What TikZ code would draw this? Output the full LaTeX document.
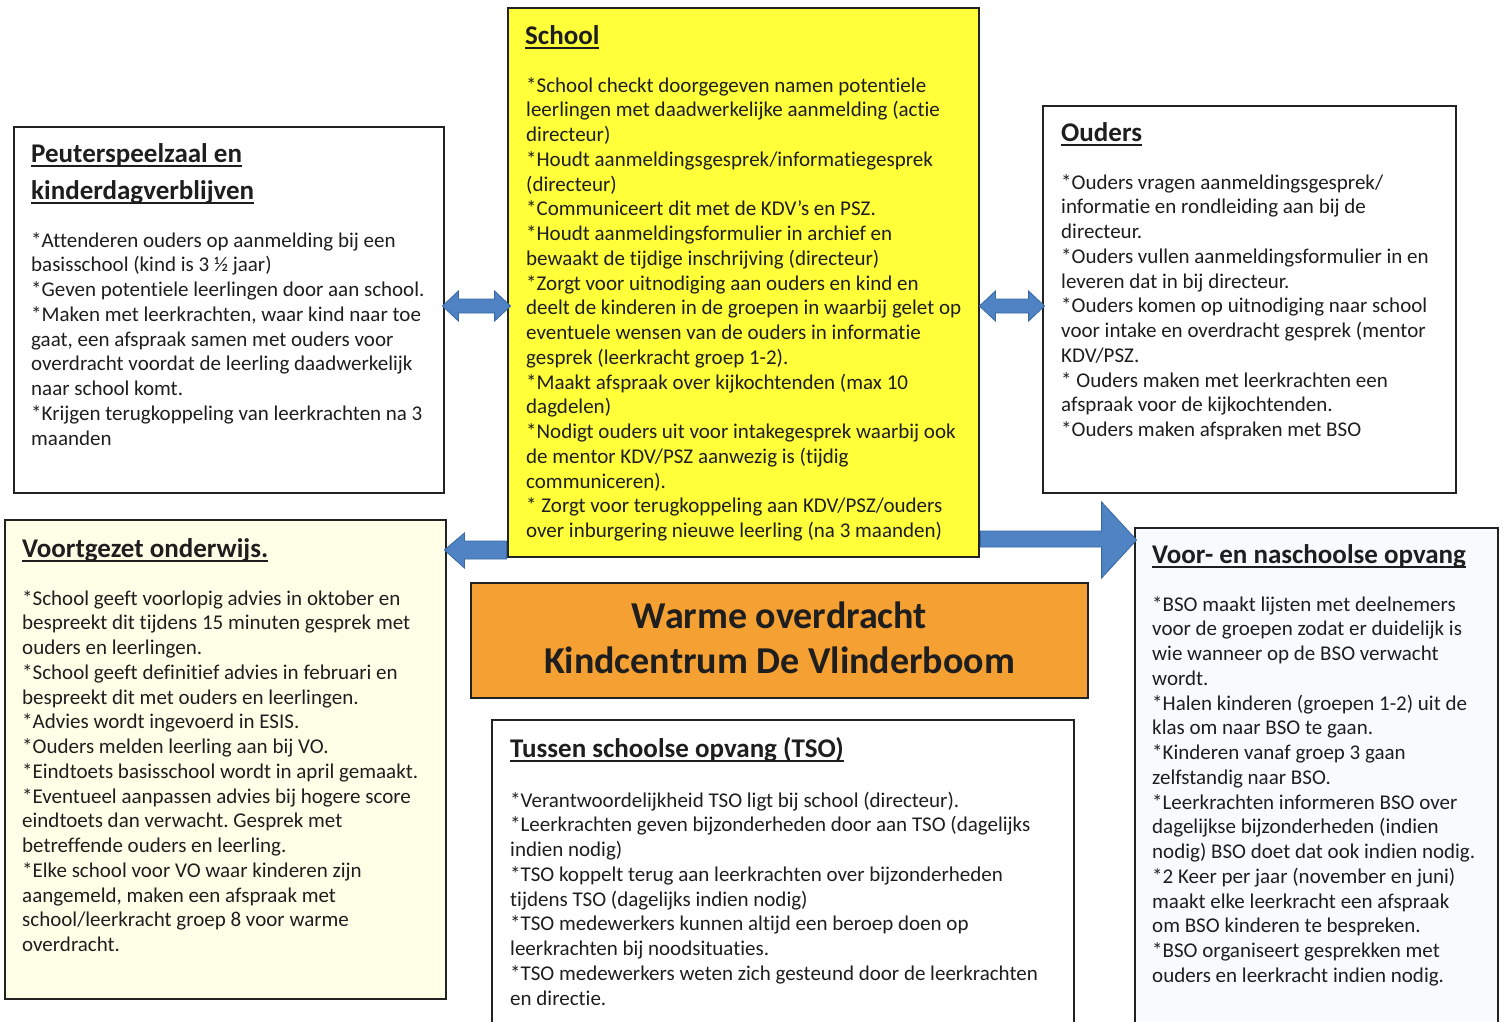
\documentclass[tikz,border=0pt]{standalone}
\usepackage{fontspec}
\setmainfont{Carlito}[Ligatures={NoCommon,NoContextual}]
\usetikzlibrary{calc}
\definecolor{schoolyellow}{RGB}{255,255,58}
\definecolor{orangebox}{RGB}{245,160,50}
\definecolor{voyellow}{RGB}{255,255,232}
\definecolor{bsoblue}{RGB}{248,251,253}
\definecolor{arrowblue}{RGB}{79,131,196}
\definecolor{arrowedge}{RGB}{58,104,165}
\definecolor{inkgray}{RGB}{30,30,30}
\definecolor{linegray}{RGB}{34,34,34}
\newcommand{\ttlul}[1]{\leavevmode\setbox0\hbox{#1}\rlap{\rule[-4.5pt]{\wd0}{2pt}}\box0}
\frenchspacing
\begin{document}
\begin{tikzpicture}[x=1pt,y=-1pt,
  box/.style={draw=linegray, line width=2.8pt, rectangle, inner sep=0pt},
  body/.style={anchor=north west, inner sep=0pt, align=left, text=inkgray, font=\fontsize{21}{24.75}\selectfont},
  heading/.style={anchor=base west, inner sep=0pt, text=inkgray, font=\fontsize{27}{30}\selectfont\bfseries},
  bigtitle/.style={anchor=base, inner sep=0pt, text=inkgray, font=\fontsize{38}{44}\selectfont\bfseries},
  blockarrow/.style={fill=arrowblue, draw=arrowedge, line width=0.8pt, line join=miter}]
\useasboundingbox (0,0) rectangle (1504,1021);
\clip (0,0) rectangle (1504,1021);
\fill[white] (0,0) rectangle (1504,1021);

% boxes
\node[box, fill=white, minimum width=430pt, minimum height=366pt] (pz) at (229,310) {};
\node[box, fill=schoolyellow, minimum width=471pt, minimum height=549pt] (school) at (743.5,282.5) {};
\node[box, fill=white, minimum width=413pt, minimum height=387pt] (ouders) at (1249.5,299.5) {};
\node[box, fill=voyellow, minimum width=441pt, minimum height=479pt] (vo) at (225.5,759.5) {};
\node[box, fill=orangebox, minimum width=617pt, minimum height=115pt] (title) at (779.5,640.5) {};
\node[box, fill=white, minimum width=582pt, minimum height=320pt] (tso) at (783,880) {};
\node[box, fill=bsoblue, minimum width=363pt, minimum height=522pt] (bso) at (1316.5,789) {};

% arrows
\coordinate (la1) at ($(pz.east |- 0,306)+(-3,0)$);
\coordinate (la2) at ($(school.west |- 0,306)+(4,0)$);
\path[blockarrow] (la1) -- ++(16,-15) -- ++(0,8) -- ($(la2)+(-16,-7)$) -- ++(0,-8) -- (la2)
  -- ++(-16,15) -- ++(0,-8) -- ($(la1)+(16,7)$) -- ++(0,8) -- cycle;
\coordinate (ra1) at ($(school.east |- 0,306)+(-1,0)$);
\coordinate (ra2) at ($(ouders.west |- 0,306)+(3,0)$);
\path[blockarrow] (ra1) -- ++(16,-15) -- ++(0,8) -- ($(ra2)+(-16,-7)$) -- ++(0,-8) -- (ra2)
  -- ++(-16,15) -- ++(0,-8) -- ($(ra1)+(16,7)$) -- ++(0,8) -- cycle;
\coordinate (vt) at ($(vo.east |- 0,550)+(-3,0)$);
\path[blockarrow] (school.west |- 0,541) -- ($(vt)+(20,-9)$) -- ++(0,-8) -- (vt)
  -- ($(vt)+(20,18)$) -- ++(0,-9) -- (school.west |- 0,559) -- cycle;
\coordinate (bt) at ($(bso.west |- 0,540)+(3,0)$);
\path[blockarrow] (school.east |- 0,531) -- ($(bt)+(-35,-9)$) -- ++(0,-29) -- (bt)
  -- ($(bt)+(-35,38)$) -- ++(0,-31) -- (school.east |- 0,547) -- cycle;

% headings
\node[heading] (pzh1) at (31,162) {\ttlul{Peuterspeelzaal en}};
\node[heading] (pzh2) at (31,199) {\ttlul{kinderdagverblijven}};
\node[heading] (schh) at (525,44) {\ttlul{School}};
\node[heading] (oudh) at (1061,141) {\ttlul{Ouders}};
\node[heading] (voh) at (22,557) {\ttlul{Voortgezet onderwijs.}};
\node[heading] (tsoh) at (510,757) {\ttlul{Tussen schoolse opvang (TSO)}};
\node[heading] (bsoh) at (1152,563) {\ttlul{Voor- en naschoolse opvang}};

\node[bigtitle] (t1) at (779.5,628) {Warme overdracht};
\node[bigtitle] (t2) at (779.5,673) {Kindcentrum De Vlinderboom};

% body texts
\node[body] (pzb) at (31,229.5) {\strut*Attenderen ouders op aanmelding bij een\\
basisschool (kind is 3 ½ jaar)\\
*Geven potentiele leerlingen door aan school.\\
*Maken met leerkrachten, waar kind naar toe\\
gaat, een afspraak samen met ouders voor\\
overdracht voordat de leerling daadwerkelijk\\
naar school komt.\\
*Krijgen terugkoppeling van leerkrachten na 3\\
maanden};

\node[body] (schb) at (526,74.5) {\strut*School checkt doorgegeven namen potentiele\\
leerlingen met daadwerkelijke aanmelding (actie\\
directeur)\\
*Houdt aanmeldingsgesprek/informatiegesprek\\
(directeur)\\
*Communiceert dit met de KDV’s en PSZ.\\
*Houdt aanmeldingsformulier in archief en\\
bewaakt de tijdige inschrijving (directeur)\\
*Zorgt voor uitnodiging aan ouders en kind en\\
deelt de kinderen in de groepen in waarbij gelet op\\
eventuele wensen van de ouders in informatie\\
gesprek (leerkracht groep 1-2).\\
*Maakt afspraak over kijkochtenden (max 10\\
dagdelen)\\
*Nodigt ouders uit voor intakegesprek waarbij ook\\
de mentor KDV/PSZ aanwezig is (tijdig\\
communiceren).\\
* Zorgt voor terugkoppeling aan KDV/PSZ/ouders\\
over inburgering nieuwe leerling (na 3 maanden)};

\node[body] (oudb) at (1061,171.5) {\strut*Ouders vragen aanmeldingsgesprek/\\
informatie en rondleiding aan bij de\\
directeur.\\
*Ouders vullen aanmeldingsformulier in en\\
leveren dat in bij directeur.\\
*Ouders komen op uitnodiging naar school\\
voor intake en overdracht gesprek (mentor\\
KDV/PSZ.\\
* Ouders maken met leerkrachten een\\
afspraak voor de kijkochtenden.\\
*Ouders maken afspraken met BSO};

\node[body] (vob) at (22,587.5) {\strut*School geeft voorlopig advies in oktober en\\
bespreekt dit tijdens 15 minuten gesprek met\\
ouders en leerlingen.\\
*School geeft definitief advies in februari en\\
bespreekt dit met ouders en leerlingen.\\
*Advies wordt ingevoerd in ESIS.\\
*Ouders melden leerling aan bij VO.\\
*Eindtoets basisschool wordt in april gemaakt.\\
*Eventueel aanpassen advies bij hogere score\\
eindtoets dan verwacht. Gesprek met\\
betreffende ouders en leerling.\\
*Elke school voor VO waar kinderen zijn\\
aangemeld, maken een afspraak met\\
school/leerkracht groep 8 voor warme\\
overdracht.};

\node[body] (tsob) at (510,789.5) {\strut*Verantwoordelijkheid TSO ligt bij school (directeur).\\
*Leerkrachten geven bijzonderheden door aan TSO (dagelijks\\
indien nodig)\\
*TSO koppelt terug aan leerkrachten over bijzonderheden\\
tijdens TSO (dagelijks indien nodig)\\
*TSO medewerkers kunnen altijd een beroep doen op\\
leerkrachten bij noodsituaties.\\
*TSO medewerkers weten zich gesteund door de leerkrachten\\
en directie.};

\node[body] (bsob) at (1152,593.5) {\strut*BSO maakt lijsten met deelnemers\\
voor de groepen zodat er duidelijk is\\
wie wanneer op de BSO verwacht\\
wordt.\\
*Halen kinderen (groepen 1-2) uit de\\
klas om naar BSO te gaan.\\
*Kinderen vanaf groep 3 gaan\\
zelfstandig naar BSO.\\
*Leerkrachten informeren BSO over\\
dagelijkse bijzonderheden (indien\\
nodig) BSO doet dat ook indien nodig.\\
*2 Keer per jaar (november en juni)\\
maakt elke leerkracht een afspraak\\
om BSO kinderen te bespreken.\\
*BSO organiseert gesprekken met\\
ouders en leerkracht indien nodig.};
\end{tikzpicture}
\end{document}
